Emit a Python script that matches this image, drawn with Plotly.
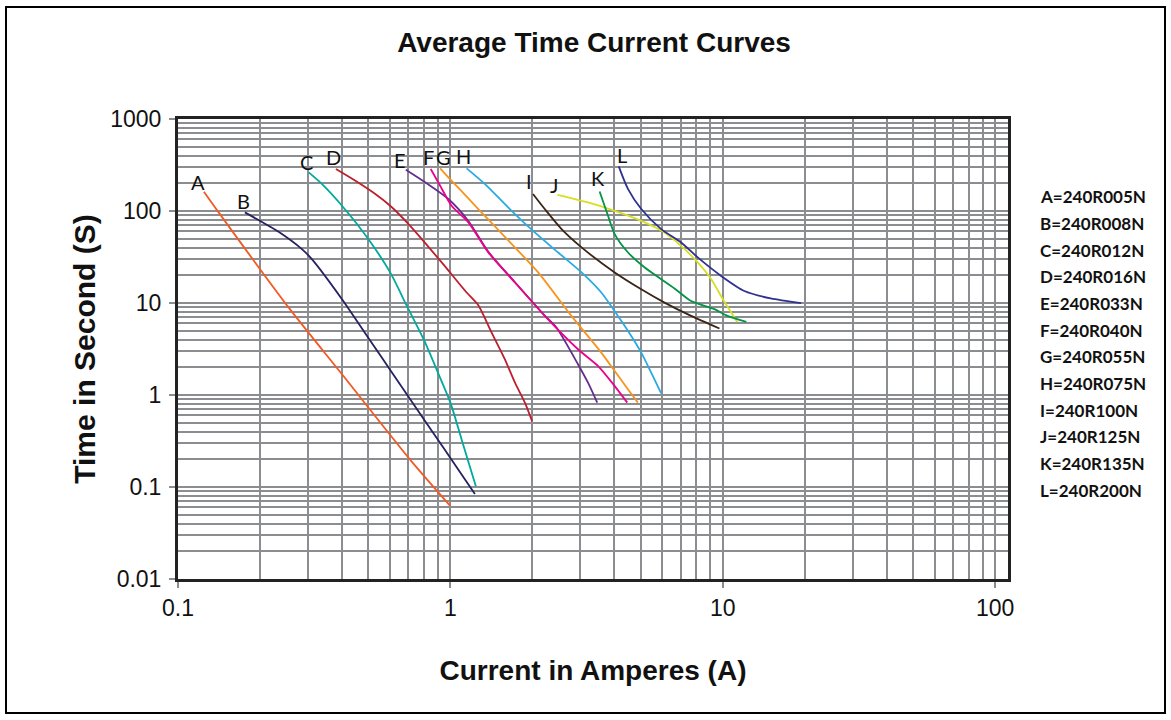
import math
import plotly.graph_objects as go

# ---------------- data ----------------
labels = ["A", "B", "C", "D", "E", "F", "G", "H", "I", "J", "K", "L"]
parts = ["240R005N", "240R008N", "240R012N", "240R016N", "240R033N", "240R040N",
         "240R055N", "240R075N", "240R100N", "240R125N", "240R135N", "240R200N"]

A_x = [0.1245, 0.141, 0.255, 0.40, 0.72, 1.0]
A_y = [162, 96.6, 8.9, 1.68, 0.19, 0.062]

B_x = [0.176, 0.234, 0.285, 0.310, 0.40, 0.50, 0.61, 0.72, 0.90, 1.01, 1.23]
B_y = [96.6, 59.4, 38.5, 30.0, 11.0, 4.17, 1.76, 0.857, 0.326, 0.198, 0.084]

C_x = [0.302, 0.338, 0.40, 0.501, 0.601, 0.692, 0.808, 0.904, 1.0, 1.10, 1.24]
C_y = [263, 196, 114, 49, 21.5, 9.30, 3.72, 1.70, 0.826, 0.327, 0.102]

D_x = [0.380, 0.448, 0.530, 0.601, 0.702, 0.929, 1.147, 1.266, 1.417, 1.585, 1.726, 1.877, 1.996]
D_y = [286, 213, 153, 114, 72, 27.6, 13.0, 9.46, 4.77, 2.44, 1.36, 0.826, 0.517]

E_x = [0.686, 0.808, 0.983, 1.164, 1.378, 1.726, 2.22, 2.45, 2.94, 3.20, 3.46]
E_y = [281, 205, 135, 78, 36, 16.8, 7.3, 5.41, 2.16, 1.36, 0.826]

F_x = [0.847, 0.917, 1.01, 1.164, 1.378, 1.726, 2.22, 2.94, 3.48, 4.01, 4.46]
F_y = [286, 188, 114, 75.2, 35.5, 16.7, 7.24, 3.14, 2.07, 1.25, 0.826]

G_x = [0.917, 0.983, 1.164, 1.266, 1.63, 2.10, 2.78, 3.58, 4.01, 4.49, 4.88]
G_y = [291, 232, 137, 105, 48, 21.5, 7.24, 2.89, 1.82, 1.15, 0.826]

H_x = [1.147, 1.34, 1.677, 2.04, 2.487, 3.03, 3.58, 4.12, 4.49, 5.02, 5.46, 5.94]
H_y = [291, 196, 100.5, 58.5, 35.4, 21.5, 13.0, 7.24, 4.97, 2.89, 1.75, 1.04]

I_x = [2.01, 2.22, 2.56, 3.03, 4.01, 5.02, 6.11, 7.65, 9.72]
I_y = [153, 105, 63.5, 40.2, 21.5, 14.1, 10.1, 7.24, 5.28]

J_x = [2.47, 3.20, 4.01, 5.02, 6.11, 7.03, 8.09, 9.06, 10.1, 11.3]
J_y = [150, 124, 100.5, 78.2, 58.5, 41.8, 27.6, 18.2, 10.5, 6.22]

K_x = [3.53, 3.79, 4.01, 4.49, 5.17, 6.65, 7.65, 9.32, 10.4, 12.2]
K_y = [163, 88.7, 56.1, 35.4, 24.3, 14.4, 10.5, 8.57, 7.24, 6.22]

L_x = [4.15, 4.49, 5.02, 5.94, 7.03, 8.09, 9.86, 12.0, 15.0, 19.4]
L_y = [306, 173, 105, 63.5, 45.5, 31.3, 19.7, 13.5, 11.2, 9.95]

x_tick_vals = [0.1, 1, 10, 100]
x_tick_text = ["0.1", "1", "10", "100"]
y_tick_vals = [0.01, 0.1, 1, 10, 100, 1000]
y_tick_text = ["0.01", "0.1", "1", "10", "100", "1000"]

# ---------------- styles ----------------
series_x = [A_x, B_x, C_x, D_x, E_x, F_x, G_x, H_x, I_x, J_x, K_x, L_x]
series_y = [A_y, B_y, C_y, D_y, E_y, F_y, G_y, H_y, I_y, J_y, K_y, L_y]
colors = ["#F15A24", "#262262", "#00A99D", "#BE1E2D", "#662D91", "#EC008C",
          "#F7941D", "#29ABE2", "#3C2415", "#D7DF23", "#009444", "#2E3192"]
# pixel offsets of each curve letter from the curve's first point
lab_dx = [-6, -1, -2, -2, -6, -2, 3, -3, -4, -3, -2, 3]
lab_dy = [10, 11, 10, 12, 10, 12, 11, 12, 13, 10, 13, 11]

W, H = 1171, 720
PL, PR, PT, PB = 178, 1008, 119, 579
PW, PH = PR - PL, PB - PT
GRID = "#8C8D90"
AX_FONT = "Liberation Sans, Arial, sans-serif"
LBL_FONT = "Lato, Carlito, Calibri, sans-serif"

fig = go.Figure()
for lab, xs, ys, c in zip(labels, series_x, series_y, colors):
    fig.add_trace(go.Scatter(
        x=xs, y=ys, mode="lines", name=lab, showlegend=False,
        line=dict(color=c, width=1.8, shape="spline", smoothing=0.7),
    ))

annotations = []
for lab, xs, ys, dx, dy in zip(labels, series_x, series_y, lab_dx, lab_dy):
    annotations.append(dict(
        x=math.log10(xs[0]), y=math.log10(ys[0]),
        xref="x", yref="y", text=lab, showarrow=False,
        xanchor="center", yanchor="middle", xshift=dx, yshift=dy,
        font=dict(family=LBL_FONT, size=20, color="#111111"),
    ))

# part-number list on the right
for i, (lab, p) in enumerate(zip(labels, parts)):
    py = 196.7 + i * 26.67
    annotations.append(dict(
        x=(1038 - PL) / PW, y=(PB - py) / PH, xref="paper", yref="paper",
        text="<b>%s=%s</b>" % (lab, p), showarrow=False,
        xanchor="left", yanchor="middle",
        font=dict(family=LBL_FONT, size=17, color="#111111"),
    ))

axis_common = dict(
    type="log", showgrid=True, gridcolor=GRID, gridwidth=2,
    ticks="outside", ticklen=6, tickwidth=2, tickcolor=GRID,
    showline=True, mirror=True, linecolor="#222222", linewidth=3,
    tickfont=dict(family=AX_FONT, size=23, color="#111111"),
    minor=dict(dtick="D1", showgrid=True, gridcolor=GRID, gridwidth=2, ticks=""),
    zeroline=False, fixedrange=True,
)

fig.update_layout(
    width=W, height=H,
    margin=dict(l=PL, r=W - PR, t=PT, b=H - PB, pad=0),
    paper_bgcolor="white", plot_bgcolor="white",
    title=dict(text="<b>Average Time Current Curves</b>", x=594 / W, y=1 - 42 / H,
               xref="container", yref="container", xanchor="center", yanchor="middle",
               font=dict(family=AX_FONT, size=28, color="#111111")),
    xaxis=dict(axis_common, range=[-1, 2.047], tickvals=x_tick_vals, ticktext=x_tick_text,
               ticklabelstandoff=0,
               title=dict(text="<b>Current in Amperes (A)</b>", standoff=41,
                          font=dict(family=AX_FONT, size=28, color="#111111"))),
    yaxis=dict(axis_common, range=[-2, 3], tickvals=y_tick_vals, ticktext=y_tick_text,
               ticklabelstandoff=3,
               title=dict(text="<b>Time in Second (S)</b>", standoff=6,
                          font=dict(family=AX_FONT, size=30, color="#111111"))),
    annotations=annotations,
    shapes=[dict(type="rect", xref="paper", yref="paper",
                 x0=(6 - PL) / PW, x1=(1165 - PL) / PW,
                 y0=(PB - 713) / PH, y1=(PB - 7) / PH,
                 line=dict(color="#000000", width=2), fillcolor="rgba(0,0,0,0)",
                 layer="below")],
)

fig.write_html("out.html", config={"displayModeBar": False},
               post_script="document.body.style.margin='0px';")
